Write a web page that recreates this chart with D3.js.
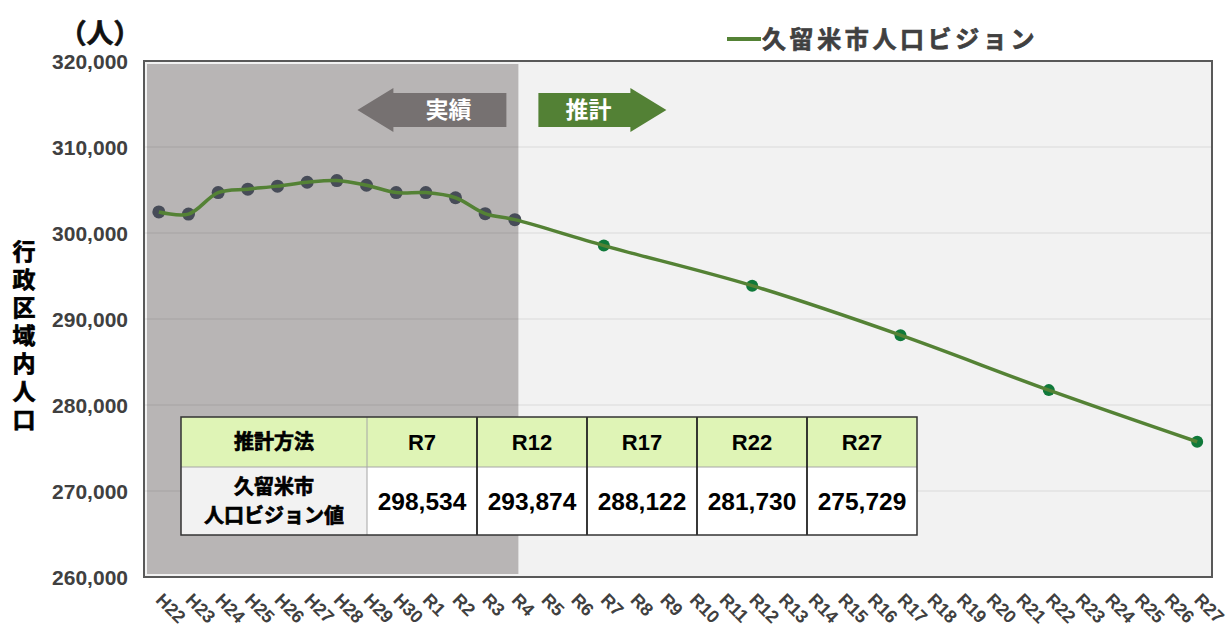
<!DOCTYPE html>
<html>
<head>
<meta charset="utf-8">
<script src="https://cdn.jsdelivr.net/npm/d3@7"></script>
<style>
  body { margin: 0; background: #fff; }
  svg { display: block; font-family: "Liberation Sans", "Noto Sans CJK JP", sans-serif; }
  .ytick { font-size: 21px; font-weight: bold; fill: #404040; }
  .xtick { font-size: 18px; font-weight: bold; fill: #404040; }
  .jp { font-family: "Noto Sans CJK JP", sans-serif; font-weight: bold; }
  .heavy { stroke-width: 0.7px; paint-order: stroke; }
</style>
</head>
<body>
<svg id="chart" width="1230" height="628"></svg>
<script>
// categories (fiscal years)
var categories = ["H22", "H23", "H24", "H25", "H26", "H27", "H28", "H29", "H30",
  "R1", "R2", "R3", "R4", "R5", "R6", "R7", "R8", "R9", "R10", "R11", "R12", "R13",
  "R14", "R15", "R16", "R17", "R18", "R19", "R20", "R21", "R22", "R23", "R24", "R25", "R26", "R27"];

// actual population (実績)
var actualYears = ["H22", "H23", "H24", "H25", "H26", "H27", "H28", "H29", "H30", "R1", "R2", "R3", "R4"];
var actualValues = [302450, 302200, 304700, 305100, 305450, 305900, 306100, 305550, 304700, 304700, 304100, 302250, 301550];

// population vision (推計)
var forecastYears = ["R7", "R12", "R17", "R22", "R27"];
var forecastValues = [298534, 293874, 288122, 281730, 275729];

var yTicks = [260000, 270000, 280000, 290000, 300000, 310000, 320000];

var seriesName = "久留米市人口ビジョン";
var tableHeader = "推計方法";
var tableRowLabel = ["久留米市", "人口ビジョン値"];

var margin = {top: 61, right: 18, bottom: 51, left: 144};
var W = 1230, H = 628;
var svg = d3.select("#chart");

var x = d3.scalePoint()
  .domain(categories)
  .range([margin.left, W - margin.right])
  .padding(0.5);

var y = d3.scaleLinear()
  .domain([260000, 320000])
  .range([H - margin.bottom, margin.top]);

var x0 = margin.left, x1 = W - margin.right, y0 = margin.top, y1 = H - margin.bottom;

// plot background
svg.append("rect")
  .attr("x", x0).attr("y", y0)
  .attr("width", x1 - x0).attr("height", y1 - y0)
  .attr("fill", "#f2f2f2");

// gridlines
svg.append("g")
  .selectAll("line")
  .data(yTicks.slice(1, -1))
  .enter().append("line")
  .attr("x1", x0).attr("x2", x1)
  .attr("y1", function (d) { return y(d); })
  .attr("y2", function (d) { return y(d); })
  .attr("stroke", "#d9d9d9")
  .attr("stroke-width", 1.2);

// shaded actual period
var shadeEnd = x(actualYears[actualYears.length - 1]) + x.step() * 0.12;
svg.append("rect")
  .attr("x", x0 + 3).attr("y", y0 + 3)
  .attr("width", shadeEnd - x0 - 3).attr("height", y1 - y0 - 6)
  .attr("fill", "rgb(12,0,0)")
  .attr("fill-opacity", 0.25);

// frame
svg.append("rect")
  .attr("x", x0).attr("y", y0)
  .attr("width", x1 - x0).attr("height", y1 - y0)
  .attr("fill", "none")
  .attr("stroke", "#595959")
  .attr("stroke-width", 2);

// y axis
var yAxis = d3.axisLeft(y)
  .tickValues(yTicks)
  .tickFormat(d3.format(","))
  .tickSize(0)
  .tickPadding(16);
var yg = svg.append("g")
  .attr("transform", "translate(" + x0 + ",0)")
  .call(yAxis);
yg.select(".domain").remove();
yg.selectAll("text").attr("class", "ytick").attr("dy", "0.36em");

// x axis (rotated labels)
svg.append("g")
  .selectAll("text")
  .data(categories)
  .enter().append("text")
  .attr("class", "xtick")
  .attr("transform", function (d) {
    return "translate(" + (x(d) - 4) + "," + (y1 + 24) + ") rotate(45)";
  })
  .text(function (d) { return d; });

// arrows
var ay = 110;
function arrowPath(xa, xb, dir) {
  // body from xa to xb, head pointing in dir (-1 left, +1 right)
  var bh = 17, hh = 22, hl = 36;
  if (dir < 0) {
    return "M" + (xa - hl) + "," + ay + " L" + xa + "," + (ay - hh) + " L" + xa + "," + (ay - bh) +
      " L" + xb + "," + (ay - bh) + " L" + xb + "," + (ay + bh) + " L" + xa + "," + (ay + bh) +
      " L" + xa + "," + (ay + hh) + " Z";
  }
  return "M" + xa + "," + (ay - bh) + " L" + xb + "," + (ay - bh) + " L" + xb + "," + (ay - hh) +
    " L" + (xb + hl) + "," + ay + " L" + xb + "," + (ay + hh) + " L" + xb + "," + (ay + bh) +
    " L" + xa + "," + (ay + bh) + " Z";
}
svg.append("path").attr("d", arrowPath(shadeEnd - 125, shadeEnd - 12, -1)).attr("fill", "#767171");
svg.append("text").attr("class", "jp")
  .attr("x", shadeEnd - 70).attr("y", ay).attr("dy", "0.36em")
  .attr("text-anchor", "middle").attr("font-size", 23).attr("fill", "#fff")
  .attr("font-weight", 500)
  .text("実績");
svg.append("path").attr("d", arrowPath(shadeEnd + 20, shadeEnd + 112, 1)).attr("fill", "#538135");
svg.append("text").attr("class", "jp")
  .attr("x", shadeEnd + 70).attr("y", ay).attr("dy", "0.36em")
  .attr("text-anchor", "middle").attr("font-size", 23).attr("fill", "#fff")
  .attr("font-weight", 500)
  .text("推計");

// series
var pts = actualYears.map(function (c, i) { return {c: c, v: actualValues[i], f: false}; })
  .concat(forecastYears.map(function (c, i) { return {c: c, v: forecastValues[i], f: true}; }));

var line = d3.line()
  .x(function (d) { return x(d.c); })
  .y(function (d) { return y(d.v); })
  .curve(d3.curveCatmullRom.alpha(0.5));

svg.append("g")
  .selectAll("circle")
  .data(pts)
  .enter().append("circle")
  .attr("cx", function (d) { return x(d.c); })
  .attr("cy", function (d) { return y(d.v); })
  .attr("r", function (d) { return d.f ? 6 : 6.5; })
  .attr("fill", function (d) { return d.f ? "#10793a" : "#474c58"; });

svg.append("path")
  .datum(pts)
  .attr("d", line)
  .attr("fill", "none")
  .attr("stroke", "#548235")
  .attr("stroke-width", 3.5)
  .attr("stroke-linejoin", "round");

// legend
svg.append("line")
  .attr("x1", 727).attr("x2", 761).attr("y1", 39).attr("y2", 39)
  .attr("stroke", "#548235").attr("stroke-width", 4);
svg.append("text").attr("class", "jp heavy")
  .attr("x", 762).attr("y", 39).attr("dy", "0.36em")
  .attr("font-size", 24).attr("letter-spacing", 3.6)
  .attr("fill", "#404040").attr("stroke", "#404040")
  .text(seriesName);

// unit and y title
svg.append("text").attr("class", "jp heavy")
  .attr("x", 100).attr("y", 33).attr("dy", "0.36em")
  .attr("text-anchor", "middle").attr("font-size", 27)
  .attr("fill", "#111").attr("stroke", "#111")
  .text("（人）");
svg.append("text").attr("class", "jp heavy")
  .attr("x", 24).attr("y", 240)
  .attr("font-size", 23)
  .attr("fill", "#000").attr("stroke", "#000")
  .style("writing-mode", "vertical-rl")
  .attr("letter-spacing", 5)
  .text("行政区域内人口");

// table of forecast values
var tx = 181, ty = 417, c0 = 186, cw = 110, rh0 = 50, rh1 = 68;
var tw = c0 + cw * forecastYears.length;
var tbl = svg.append("g");
tbl.append("rect").attr("x", tx).attr("y", ty).attr("width", tw).attr("height", rh0).attr("fill", "#dff4b6");
tbl.append("rect").attr("x", tx).attr("y", ty + rh0).attr("width", c0).attr("height", rh1).attr("fill", "#f2f2f2");
tbl.append("rect").attr("x", tx + c0).attr("y", ty + rh0).attr("width", tw - c0).attr("height", rh1).attr("fill", "#fff");
tbl.append("line").attr("x1", tx).attr("x2", tx + tw).attr("y1", ty + rh0).attr("y2", ty + rh0)
  .attr("stroke", "#a6a6a6").attr("stroke-width", 1);
tbl.append("line").attr("x1", tx + c0).attr("x2", tx + c0).attr("y1", ty).attr("y2", ty + rh0 + rh1)
  .attr("stroke", "#a6a6a6").attr("stroke-width", 1);
tbl.selectAll("line.col")
  .data(forecastYears.slice(1))
  .enter().append("line").attr("class", "col")
  .attr("x1", function (d, i) { return tx + c0 + cw * (i + 1); })
  .attr("x2", function (d, i) { return tx + c0 + cw * (i + 1); })
  .attr("y1", ty).attr("y2", ty + rh0 + rh1)
  .attr("stroke", "#222").attr("stroke-width", 1.8);
tbl.append("rect").attr("x", tx).attr("y", ty).attr("width", tw).attr("height", rh0 + rh1)
  .attr("fill", "none").attr("stroke", "#333").attr("stroke-width", 1.5);

tbl.append("text").attr("class", "jp heavy")
  .attr("x", tx + c0 / 2).attr("y", ty + rh0 / 2).attr("dy", "0.36em")
  .attr("text-anchor", "middle").attr("font-size", 20)
  .attr("fill", "#000").attr("stroke", "#000")
  .text(tableHeader);
tbl.selectAll("text.lbl")
  .data(tableRowLabel)
  .enter().append("text").attr("class", "jp heavy lbl")
  .attr("x", tx + c0 / 2)
  .attr("y", function (d, i) { return ty + rh0 + 20 + i * 29; })
  .attr("dy", "0.36em")
  .attr("text-anchor", "middle").attr("font-size", 20)
  .attr("fill", "#000").attr("stroke", "#000")
  .text(function (d) { return d; });
tbl.selectAll("text.hd")
  .data(forecastYears)
  .enter().append("text").attr("class", "hd")
  .attr("x", function (d, i) { return tx + c0 + cw * i + cw / 2; })
  .attr("y", ty + rh0 / 2).attr("dy", "0.36em")
  .attr("text-anchor", "middle").attr("font-size", 22).attr("font-weight", "bold").attr("fill", "#000")
  .text(function (d) { return d; });
tbl.selectAll("text.val")
  .data(forecastValues)
  .enter().append("text").attr("class", "val")
  .attr("x", function (d, i) { return tx + c0 + cw * i + cw / 2; })
  .attr("y", ty + rh0 + rh1 / 2).attr("dy", "0.36em")
  .attr("text-anchor", "middle").attr("font-size", 24.5).attr("font-weight", "bold").attr("fill", "#000")
  .text(function (d) { return d3.format(",")(d); });
</script>
</body>
</html>
